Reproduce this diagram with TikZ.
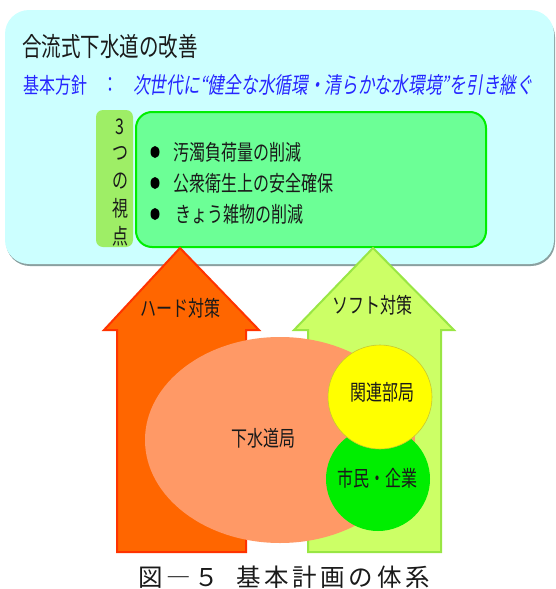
\documentclass[tikz,border=0pt]{standalone}
\usepackage{fontspec}
\setmainfont{Noto Sans CJK JP}
\newfontfamily\cjkslant{Noto Sans CJK JP}[FakeSlant=0.2]
\newfontfamily\capfont{Noto Sans CJK JP}[LetterSpace=15]
\usetikzlibrary{positioning}
\newcommand\vst[1]{\scalebox{1}[1.35]{#1}}
\definecolor{cyanbg}{HTML}{CCFFFF}
\definecolor{shadowc}{HTML}{8AA0A0}
\definecolor{boxfill}{HTML}{6CFF96}
\definecolor{boxline}{HTML}{00EE00}
\definecolor{tagfill}{HTML}{9EEE66}
\definecolor{hardfill}{HTML}{FF6600}
\definecolor{hardline}{HTML}{FF3300}
\definecolor{softfill}{HTML}{CCFF66}
\definecolor{softline}{HTML}{99E644}
\definecolor{ellfill}{HTML}{FF9966}
\definecolor{citizen}{HTML}{00EE00}
\definecolor{related}{HTML}{FFFF00}
\definecolor{relline}{HTML}{C8C830}
\definecolor{bluetext}{HTML}{2626FF}
\definecolor{txt}{HTML}{1A1A1A}
\tikzset{
  lbl/.style={inner sep=0pt, text=txt, font=\fontsize{16}{19}\selectfont},
  bul/.style={fill=black, draw=none},
}
\begin{document}
\begin{tikzpicture}[x=1pt,y=-1pt]
\useasboundingbox (0,0) rectangle (556,589);
% top panel
\fill[shadowc, rounded corners=24pt] (6,13) rectangle (555,266);
\fill[cyanbg, rounded corners=24pt] (5,10) rectangle (554,264);
\node[anchor=west, inner sep=0pt, text=txt, font=\fontsize{19.5}{22}\selectfont] (title) at (22,47) {\vst{合流式下水道の改善}};
\node[anchor=west, inner sep=0pt, text=bluetext, font=\fontsize{16}{19}\selectfont] (policy) at (23,85) {\vst{基本方針}};
\node[anchor=center, inner sep=0pt, text=bluetext, font=\fontsize{16}{19}\selectfont] (colon) at (110,85) {\vst{：}};
\node[anchor=west, inner sep=0pt, text=bluetext, font=\fontsize{16.7}{19}\cjkslant] (goal) at (133,85) {\vst{次世代に“健全な水循環・清らかな水環境”を引き継ぐ}};
% three viewpoints
\fill[tagfill, rounded corners=7pt] (96,110) rectangle (133,247);
\node[lbl] (t1) at (120,127) {\vst{3}};
\node[lbl] (t2) at (120,153) {\vst{つ}};
\node[lbl] (t3) at (120,181) {\vst{の}};
\node[lbl] (t4) at (120,208) {\vst{視}};
\node[lbl] (t5) at (120,236) {\vst{点}};
\draw[boxline, line width=2pt, fill=boxfill, rounded corners=16pt] (136,112) rectangle (486,247);
\fill[bul] (155,152) ellipse (4.5pt and 6pt);
\fill[bul] (155,183) ellipse (4.5pt and 6pt);
\fill[bul] (155,214) ellipse (4.5pt and 6pt);
\node[lbl, anchor=west] (p1) at (173,152) {\vst{汚濁負荷量の削減}};
\node[lbl, anchor=west] (p2) at (173,183) {\vst{公衆衛生上の安全確保}};
\node[lbl, anchor=west] (p3) at (175,214) {\vst{きょう雑物の削減}};
% arrows
\draw[hardline, line width=2pt, fill=hardfill, line join=miter]
  (180,248) -- (259,330) -- (246,330) -- (246,552) -- (117,552) -- (117,330) -- (104,330) -- cycle;
\draw[softline, line width=2pt, fill=softfill, line join=miter]
  (373,248) -- (454,330) -- (441,330) -- (441,552) -- (308,552) -- (308,330) -- (294,330) -- cycle;
\node[lbl] (hard) at (180,308) {\vst{ハード対策}};
\node[lbl] (soft) at (372,305) {\vst{ソフト対策}};
% organisations
\fill[ellfill] (280,440) ellipse (135pt and 103pt);
\node[lbl] (sewer) at (263,438) {\vst{下水道局}};
\fill[citizen] (378,479) circle (52pt);
\draw[relline, line width=0.6pt, fill=related] (380,397) circle (52pt);
\node[lbl] (rel) at (382,392) {\vst{関連部局}};
\node[lbl] (cit) at (377,478) {\vst{市民・企業}};
% caption
\node[inner sep=0pt, text=txt, font=\fontsize{24.5}{27}\capfont] (cap) at (284,577) {図―５\hspace{0.7em}基本計画の体系};
\end{tikzpicture}
\end{document}
